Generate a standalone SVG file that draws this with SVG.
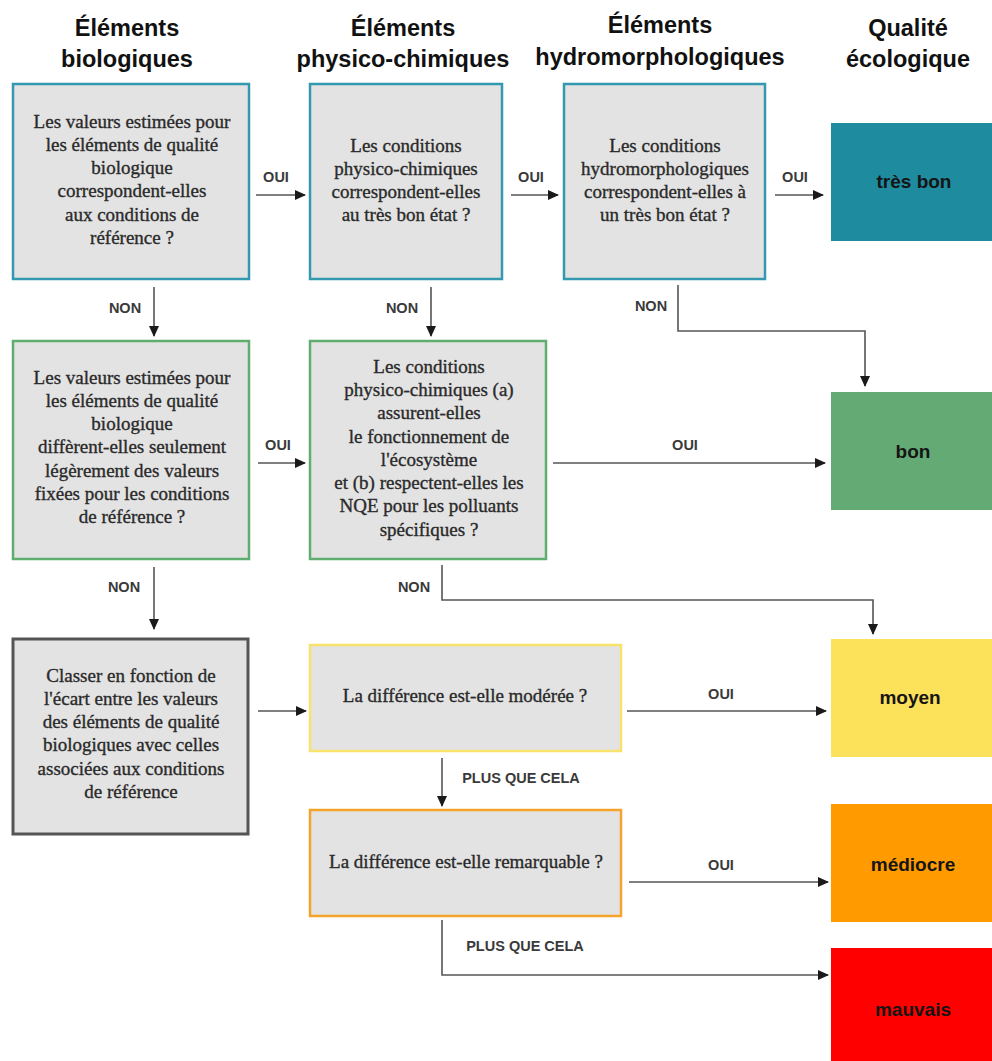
<svg xmlns="http://www.w3.org/2000/svg" width="992" height="1061" viewBox="0 0 992 1061">
<style>
.hdr{font-family:"Liberation Sans",Arial,sans-serif;font-weight:bold;font-size:23.5px;fill:#111;text-anchor:middle}
.q{font-family:"Liberation Serif","Times New Roman",serif;font-size:19px;fill:#2a2a2a;stroke:#2a2a2a;stroke-width:0.35;text-anchor:middle}
.lbl{font-family:"Liberation Sans",Arial,sans-serif;font-weight:bold;font-size:14.5px;fill:#3a3a3a;text-anchor:middle}
.res{font-family:"Liberation Sans",Arial,sans-serif;font-weight:bold;font-size:19px;fill:#151515;text-anchor:middle}
.box{fill:#e3e3e3;stroke-width:2.5}
.teal{stroke:#3399b0}
.green{stroke:#5fae70}
.dark{stroke:#555;stroke-width:3}
.yellow{stroke:#f8e26c}
.orange{stroke:#f5a32a}
.con{fill:none;stroke:#555;stroke-width:1.6}
</style>
<defs>
<marker id="ah" markerWidth="11" markerHeight="10" refX="10" refY="5" orient="auto" markerUnits="userSpaceOnUse">
<path d="M0,0 L11,5 L0,10 Z" fill="#1a1a1a"/>
</marker>
</defs>
<rect width="992" height="1061" fill="#fff"/>

<g id="headers">
<text class="hdr" x="127" y="36">Éléments</text>
<text class="hdr" x="127" y="67">biologiques</text>
<text class="hdr" x="403" y="36">Éléments</text>
<text class="hdr" x="403" y="67">physico-chimiques</text>
<text class="hdr" x="660" y="33">Éléments</text>
<text class="hdr" x="660" y="65">hydromorphologiques</text>
<text class="hdr" x="908" y="36">Qualité</text>
<text class="hdr" x="908" y="67">écologique</text>
</g>

<g id="q-bio1">
<rect class="box teal" x="13" y="84" width="236" height="195"/>
<text class="q" x="132" y="128">Les valeurs estimées pour</text>
<text class="q" x="132" y="151">les éléments de qualité</text>
<text class="q" x="132" y="174">biologique</text>
<text class="q" x="132" y="197">correspondent-elles</text>
<text class="q" x="132" y="221">aux conditions de</text>
<text class="q" x="132" y="244">référence ?</text>
</g>

<g id="q-pc1">
<rect class="box teal" x="310" y="84" width="192" height="195"/>
<text class="q" x="406" y="152">Les conditions</text>
<text class="q" x="406" y="175">physico-chimiques</text>
<text class="q" x="406" y="198">correspondent-elles</text>
<text class="q" x="406" y="221">au très bon état ?</text>
</g>

<g id="q-hydro">
<rect class="box teal" x="564" y="84" width="201" height="195"/>
<text class="q" x="665" y="152">Les conditions</text>
<text class="q" x="665" y="175">hydromorphologiques</text>
<text class="q" x="665" y="198">correspondent-elles à</text>
<text class="q" x="665" y="221">un très bon état ?</text>
</g>

<g id="q-bio2">
<rect class="box green" x="13" y="341" width="236" height="218"/>
<text class="q" x="132" y="384">Les valeurs estimées pour</text>
<text class="q" x="132" y="407">les éléments de qualité</text>
<text class="q" x="132" y="430">biologique</text>
<text class="q" x="132" y="453">diffèrent-elles seulement</text>
<text class="q" x="132" y="477">légèrement des valeurs</text>
<text class="q" x="132" y="500">fixées pour les conditions</text>
<text class="q" x="132" y="523">de référence ?</text>
</g>

<g id="q-pc2">
<rect class="box green" x="310" y="341" width="236" height="218"/>
<text class="q" x="429" y="373">Les conditions</text>
<text class="q" x="429" y="396">physico-chimiques (a)</text>
<text class="q" x="429" y="419">assurent-elles</text>
<text class="q" x="429" y="443">le fonctionnement de</text>
<text class="q" x="429" y="466">l'écosystème</text>
<text class="q" x="429" y="489">et (b) respectent-elles les</text>
<text class="q" x="429" y="512">NQE pour les polluants</text>
<text class="q" x="429" y="536">spécifiques ?</text>
</g>

<g id="classer">
<rect class="box dark" x="13" y="639" width="235" height="195"/>
<text class="q" x="131" y="682">Classer en fonction de</text>
<text class="q" x="131" y="705">l'écart entre les valeurs</text>
<text class="q" x="131" y="728">des éléments de qualité</text>
<text class="q" x="131" y="751">biologiques avec celles</text>
<text class="q" x="131" y="775">associées aux conditions</text>
<text class="q" x="131" y="798">de référence</text>
</g>

<g id="q-moderee">
<rect class="box yellow" x="310" y="645" width="311" height="106"/>
<text class="q" x="465" y="702">La différence est-elle modérée ?</text>
</g>

<g id="q-remarquable">
<rect class="box orange" x="310" y="810" width="311" height="106"/>
<text class="q" x="466" y="868">La différence est-elle remarquable ?</text>
</g>

<g id="r-tresbon">
<rect x="831" y="123" width="161" height="118" fill="#1f8b9f"/>
<text class="res" x="914" y="188">très bon</text>
</g>
<g id="r-bon">
<rect x="831" y="392" width="161" height="118" fill="#64aa75"/>
<text class="res" x="913" y="458">bon</text>
</g>
<g id="r-moyen">
<rect x="831" y="639" width="161" height="118" fill="#fce15a"/>
<text class="res" x="910" y="704">moyen</text>
</g>
<g id="r-mediocre">
<rect x="831" y="804" width="161" height="118" fill="#ff9a00"/>
<text class="res" x="913" y="871">médiocre</text>
</g>
<g id="r-mauvais">
<rect x="831" y="948" width="161" height="113" fill="#ff0000"/>
<text class="res" x="913" y="1016">mauvais</text>
</g>

<g id="connectors">
<path class="con" d="M256,195 H305" marker-end="url(#ah)"/>
<path class="con" d="M511,195 H558" marker-end="url(#ah)"/>
<path class="con" d="M775,195 H823" marker-end="url(#ah)"/>
<path class="con" d="M154,287 V336" marker-end="url(#ah)"/>
<path class="con" d="M431,287 V336" marker-end="url(#ah)"/>
<path class="con" d="M678,285 V331 H865 V386" marker-end="url(#ah)"/>
<path class="con" d="M258,463 H305" marker-end="url(#ah)"/>
<path class="con" d="M553,463 H825" marker-end="url(#ah)"/>
<path class="con" d="M154,567 V629" marker-end="url(#ah)"/>
<path class="con" d="M442,565 V600 H873 V634" marker-end="url(#ah)"/>
<path class="con" d="M258,711 H306" marker-end="url(#ah)"/>
<path class="con" d="M627,711 H826" marker-end="url(#ah)"/>
<path class="con" d="M442,758 V806" marker-end="url(#ah)"/>
<path class="con" d="M629,882 H828" marker-end="url(#ah)"/>
<path class="con" d="M442,920 V975 H828" marker-end="url(#ah)"/>
<text class="lbl" x="276" y="182">OUI</text>
<text class="lbl" x="531" y="182">OUI</text>
<text class="lbl" x="795" y="182">OUI</text>
<text class="lbl" x="125" y="313">NON</text>
<text class="lbl" x="402" y="313">NON</text>
<text class="lbl" x="651" y="311">NON</text>
<text class="lbl" x="278" y="450">OUI</text>
<text class="lbl" x="685" y="450">OUI</text>
<text class="lbl" x="124" y="592">NON</text>
<text class="lbl" x="414" y="592">NON</text>
<text class="lbl" x="721" y="699">OUI</text>
<text class="lbl" x="521" y="783">PLUS QUE CELA</text>
<text class="lbl" x="721" y="870">OUI</text>
<text class="lbl" x="525" y="951">PLUS QUE CELA</text>
</g>
</svg>
